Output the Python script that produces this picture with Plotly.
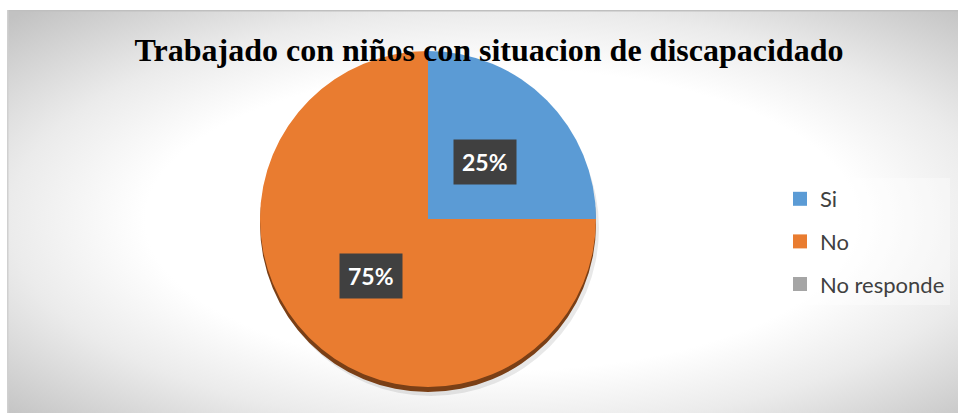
import math
import plotly.graph_objects as go

# ---- data ----
categories = ["Si", "No", "No responde"]
values = [25, 75, 0]
colors = ["#5B9BD5", "#E97C30", "#A5A5A5"]
rim_colors = ["#35597c", "#7a3f16", "#5f5f5f"]
title_text = "Trabajado con niños con situacion de discapacidado"

W, H = 958, 413

fig = go.Figure()

# pie geometry (pixels)
cx, cy, r = 428, 219, 168
dom_x = [(cx - r) / W, (cx + r) / W]
dom_y = [1 - (cy + r) / H, 1 - (cy - r) / H]
rim_off = 5
dom_y_rim = [1 - (cy + r + rim_off) / H, 1 - (cy - r + rim_off) / H]
sh_off = 9
dom_x_sh = [(cx - r + 3) / W, (cx + r + 3) / W]
dom_y_sh = [1 - (cy + r + sh_off) / H, 1 - (cy - r + sh_off) / H]

# soft shadow
fig.add_trace(go.Pie(
    labels=categories, values=values, sort=False, direction="clockwise",
    marker=dict(colors=["rgba(0,0,0,0.09)"] * 3, line=dict(width=0)),
    textinfo="none", hoverinfo="skip", showlegend=False,
    domain=dict(x=dom_x_sh, y=dom_y_sh)))
# 3D rim
fig.add_trace(go.Pie(
    labels=categories, values=values, sort=False, direction="clockwise",
    marker=dict(colors=rim_colors, line=dict(width=0)),
    textinfo="none", hoverinfo="skip", showlegend=False,
    domain=dict(x=dom_x, y=dom_y_rim)))
# main pie
fig.add_trace(go.Pie(
    labels=categories, values=values, sort=False, direction="clockwise",
    marker=dict(colors=colors, line=dict(width=0)),
    textinfo="none", showlegend=False,
    domain=dict(x=dom_x, y=dom_y)))

# legend proxies
for i, (lab, col) in enumerate(zip(categories, colors)):
    fig.add_trace(go.Scatter(
        x=[None], y=[None], mode="markers", name=lab,
        marker=dict(symbol="square", size=14, color=col),
        legendgroup=f"g{i}", showlegend=True))

# data labels computed from slice angles
total = sum(values)
cum = 0
annotations = []
for v in values:
    if v > 0:
        mid = (cum + v / 2) / total * 2 * math.pi
        rr = 0.48 * r
        px = cx + rr * math.sin(mid)
        py = cy - rr * math.cos(mid)
        annotations.append(dict(
            x=px / W, y=1 - py / H, xref="paper", yref="paper",
            text=f"<b>{round(v / total * 100)}%</b>", showarrow=False,
            font=dict(family="Lato, Open Sans, sans-serif", size=23, color="white"),
            bgcolor="#404040", borderpad=8, xanchor="center", yanchor="middle"))
    cum += v

bg_svg = (
    "data:image/svg+xml;utf8,"
    "<svg xmlns='http://www.w3.org/2000/svg' width='951' height='403' preserveAspectRatio='none'>"
    "<defs><radialGradient id='g' cx='52%25' cy='52%25' r='72%25'>"
    "<stop offset='0%25' stop-color='%23ffffff'/>"
    "<stop offset='52%25' stop-color='%23ffffff'/>"
    "<stop offset='72%25' stop-color='%23ebebeb'/>"
    "<stop offset='100%25' stop-color='%23c2c2c2'/>"
    "</radialGradient></defs>"
    "<rect x='0' y='0' width='951' height='403' fill='url(%23g)'/>"
    "<line x1='0' y1='0.5' x2='951' y2='0.5' stroke='%23bfbfbf' stroke-width='2'/>"
    "<line x1='0.5' y1='0' x2='0.5' y2='403' stroke='%23d0d0d0' stroke-width='2'/>"
    "</svg>")

fig.update_layout(
    width=W, height=H,
    margin=dict(l=0, r=0, t=0, b=0),
    paper_bgcolor="white", plot_bgcolor="rgba(0,0,0,0)",
    xaxis=dict(visible=False), yaxis=dict(visible=False),
    title=dict(text=f"<b>{title_text}</b>", x=489 / W, y=1 - 50 / H,
               xanchor="center", yanchor="middle", xref="paper", yref="paper",
               font=dict(family="Liberation Serif, Times New Roman, serif", size=32, color="black")),
    legend=dict(x=780 / W, y=1 - 178 / H, xanchor="left", yanchor="top",
                bgcolor="rgba(255,255,255,0.35)", borderwidth=0,
                font=dict(family="Lato, sans-serif", size=22, color="#404040"),
                tracegroupgap=11, itemsizing="trace"),
    annotations=annotations,
    images=[dict(source=bg_svg, xref="paper", yref="paper",
                 x=7 / W, y=1 - 10 / H, sizex=(W - 7) / W, sizey=(H - 10) / H,
                 xanchor="left", yanchor="top", sizing="stretch", layer="below")],
)

fig.write_html("out.html", config={"displayModeBar": False},
               post_script="document.body.style.margin='0';document.body.style.overflow='hidden';")
